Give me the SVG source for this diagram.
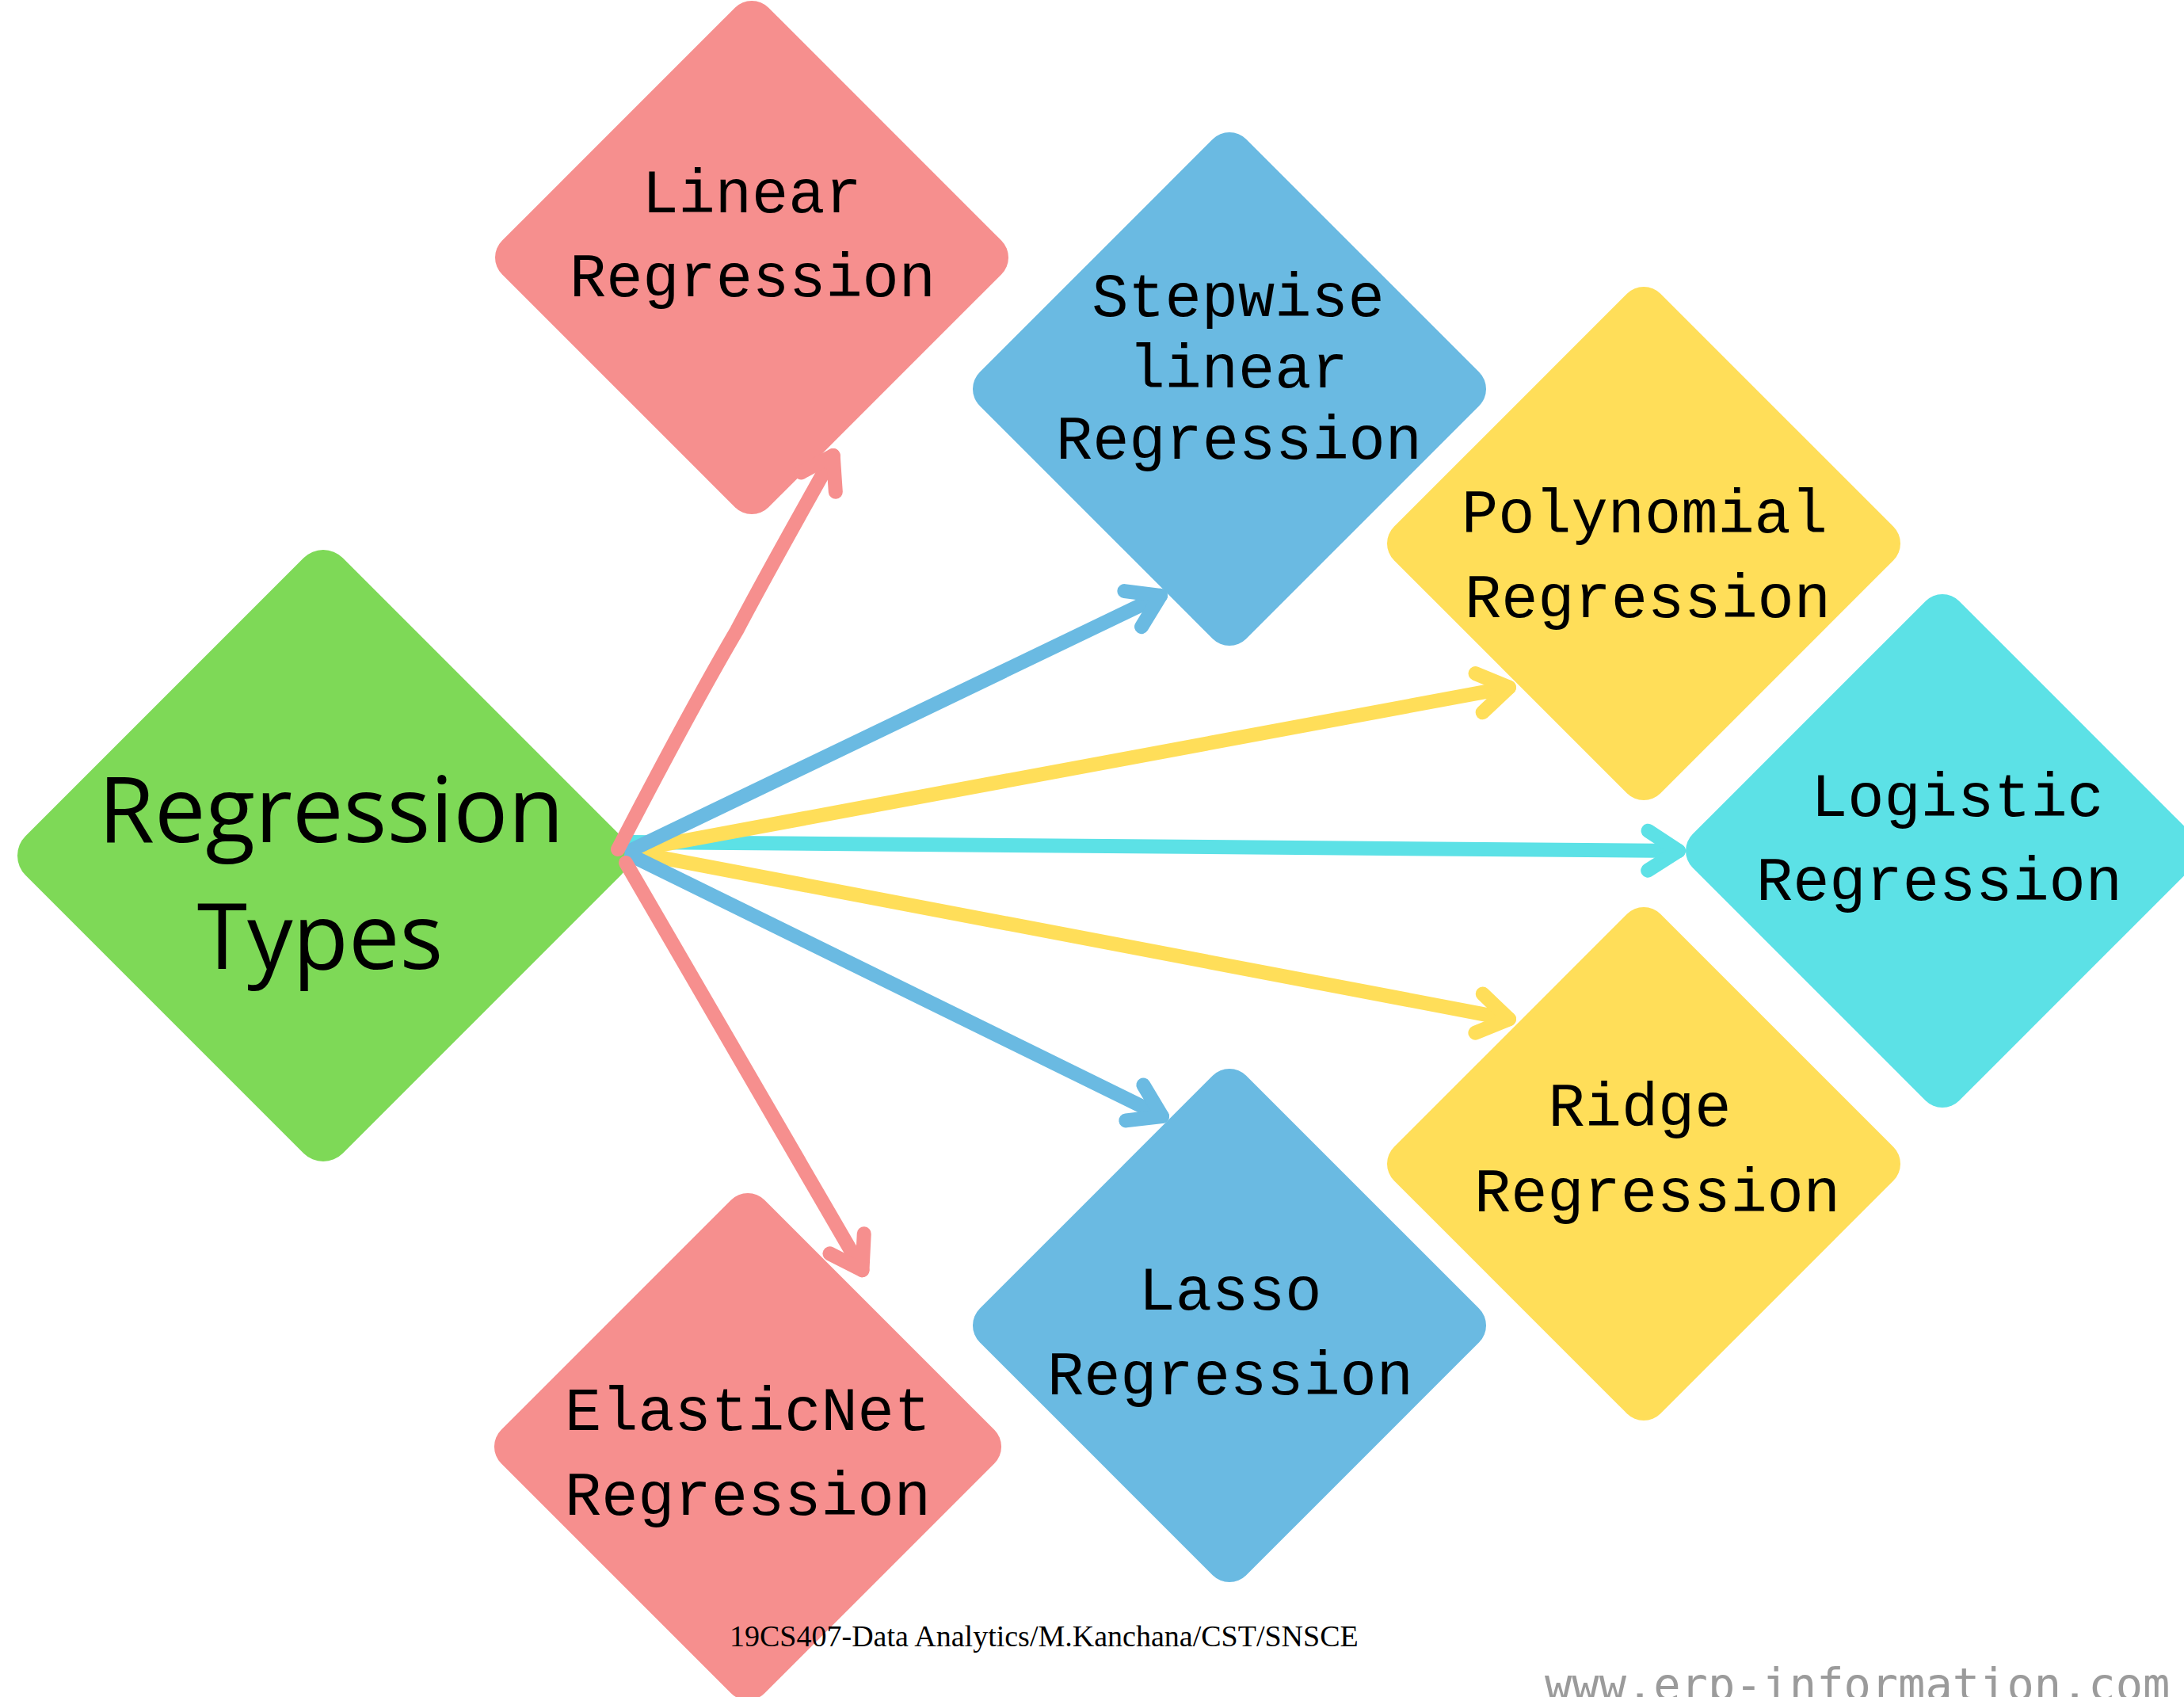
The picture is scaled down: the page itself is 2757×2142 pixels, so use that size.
<svg xmlns="http://www.w3.org/2000/svg" width="2757" height="2142" viewBox="0 0 2757 2142">
  <style>
    .pink { fill: #F68F8E; }
    .blue { fill: #6ABAE2; }
    .yellow { fill: #FFDE59; }
    .cyan { fill: #5CE1E6; }
    .green { fill: #7ED957; }
    .lbl { font-family: "Liberation Mono", "DejaVu Sans Mono", monospace; font-size: 77px; fill: #000; text-anchor: middle; }
    .big { font-family: "Open Sans", "Noto Sans", sans-serif; font-size: 115px; fill: #000; text-anchor: middle; }
    .conn { fill: none; stroke-width: 18; stroke-linecap: round; stroke-linejoin: round; }
    .c-pink { stroke: #F68F8E; }
    .c-blue { stroke: #6ABAE2; }
    .c-yellow { stroke: #FFDE59; }
    .c-cyan { stroke: #5CE1E6; }
    .foot { font-family: "Liberation Serif", serif; font-size: 38px; fill: #000; }
    .wm { font-family: "DejaVu Sans Mono", "Liberation Mono", monospace; font-size: 57px; fill: #9b9b9b; }
  </style>
  <defs>
    <marker id="ah-pink" markerUnits="userSpaceOnUse" orient="auto" viewBox="-60 -45 72 90" markerWidth="72" markerHeight="90" refX="0" refY="0">
      <path d="M -38.6 -25 L 0 0 L -38.6 25" class="conn c-pink"/>
    </marker>
    <marker id="ah-blue" markerUnits="userSpaceOnUse" orient="auto" viewBox="-60 -45 72 90" markerWidth="72" markerHeight="90" refX="0" refY="0">
      <path d="M -38.6 -25 L 0 0 L -38.6 25" class="conn c-blue"/>
    </marker>
    <marker id="ah-yellow" markerUnits="userSpaceOnUse" orient="auto" viewBox="-60 -45 72 90" markerWidth="72" markerHeight="90" refX="0" refY="0">
      <path d="M -38.6 -25 L 0 0 L -38.6 25" class="conn c-yellow"/>
    </marker>
    <marker id="ah-cyan" markerUnits="userSpaceOnUse" orient="auto" viewBox="-60 -45 72 90" markerWidth="72" markerHeight="90" refX="0" refY="0">
      <path d="M -38.6 -25 L 0 0 L -38.6 25" class="conn c-cyan"/>
    </marker>
  </defs>

  <rect x="0" y="0" width="2757" height="2142" fill="#ffffff"/>

  <g id="node-regression-types">
    <rect class="green" x="-283.2" y="-283.2" width="566.4" height="566.4" rx="35" transform="translate(408,1080) rotate(45)"/>
    <text class="big" x="418" y="1063">Regression</text>
    <text class="big" x="404" y="1223">Types</text>
  </g>

  <g id="node-linear">
    <rect class="pink" x="-237.9" y="-237.9" width="475.8" height="475.8" rx="30" transform="translate(949,325) rotate(45)"/>
    <text class="lbl" x="949" y="268">Linear</text>
    <text class="lbl" x="950" y="374">Regression</text>
  </g>

  <g id="node-stepwise">
    <rect class="blue" x="-237.9" y="-237.9" width="475.8" height="475.8" rx="30" transform="translate(1552,491) rotate(45)"/>
    <text class="lbl" x="1563" y="399">Stepwise</text>
    <text class="lbl" x="1563" y="489">linear</text>
    <text class="lbl" x="1564" y="579">Regression</text>
  </g>

  <g id="node-polynomial">
    <rect class="yellow" x="-237.9" y="-237.9" width="475.8" height="475.8" rx="30" transform="translate(2075,686) rotate(45)"/>
    <text class="lbl" x="2076" y="672">Polynomial</text>
    <text class="lbl" x="2080" y="779">Regression</text>
  </g>

  <g id="node-logistic">
    <rect class="cyan" x="-237.9" y="-237.9" width="475.8" height="475.8" rx="30" transform="translate(2452,1074) rotate(45)"/>
    <text class="lbl" x="2471" y="1030">Logistic</text>
    <text class="lbl" x="2448" y="1136">Regression</text>
  </g>

  <g id="node-ridge">
    <rect class="yellow" x="-237.9" y="-237.9" width="475.8" height="475.8" rx="30" transform="translate(2075,1469) rotate(45)"/>
    <text class="lbl" x="2070" y="1421">Ridge</text>
    <text class="lbl" x="2092" y="1529">Regression</text>
  </g>

  <g id="node-lasso">
    <rect class="blue" x="-237.9" y="-237.9" width="475.8" height="475.8" rx="30" transform="translate(1552,1673) rotate(45)"/>
    <text class="lbl" x="1553" y="1653">Lasso</text>
    <text class="lbl" x="1553" y="1760">Regression</text>
  </g>

  <g id="node-elasticnet">
    <rect class="pink" x="-235.1" y="-235.1" width="470.2" height="470.2" rx="30" transform="translate(944,1826) rotate(45)"/>
    <text class="lbl" x="944" y="1805">ElasticNet</text>
    <text class="lbl" x="944" y="1912">Regression</text>
  </g>

  <g id="connectors">
    <path class="conn c-cyan" d="M 797 1063 L 2119 1074" marker-end="url(#ah-cyan)"/>
    <path class="conn c-yellow" d="M 800 1073 L 1905 867.6" marker-end="url(#ah-yellow)"/>
    <path class="conn c-yellow" d="M 800 1076 L 1905 1286.3" marker-end="url(#ah-yellow)"/>
    <path class="conn c-blue" d="M 797 1073 L 1465 751.9" marker-end="url(#ah-blue)"/>
    <path class="conn c-blue" d="M 797 1080 L 1467 1409" marker-end="url(#ah-blue)"/>
    <path class="conn c-pink" d="M 780 1072 C 820 996 870 898 930 796 C 970 720 1010 650 1051.7 574.9" marker-end="url(#ah-pink)"/>
    <path class="conn c-pink" d="M 790 1089 L 1088.5 1603.2" marker-end="url(#ah-pink)"/>
  </g>

  <text class="foot" x="921" y="2078">19CS407-Data Analytics/M.Kanchana/CST/SNSCE</text>
  <text class="wm" x="1950" y="2146">www.erp-information.com</text>
</svg>
